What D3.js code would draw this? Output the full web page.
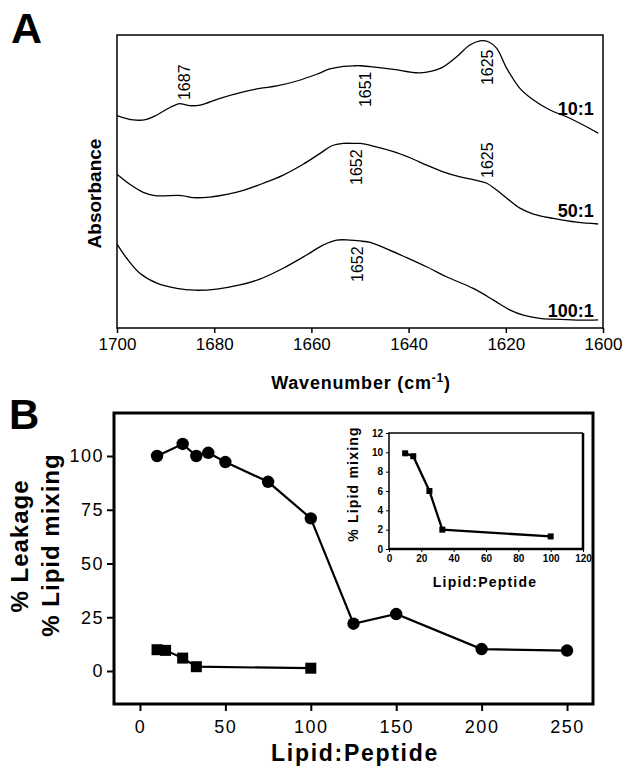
<!DOCTYPE html>
<html>
<head>
<meta charset="utf-8">
<script src="https://cdn.jsdelivr.net/npm/d3@7"></script>
<style>
  body { margin: 0; background: #fff; }
  svg { display: block; font-family: "Liberation Sans", Arial, sans-serif; }
</style>
</head>
<body>
<svg id="chart" width="623" height="768"></svg>
<script>
// ---- panel A: FTIR spectra (wavenumber, absorbance in arbitrary units) ----
const spec10 = [
  [1700, 0.725], [1696.6, 0.710], [1693.9, 0.712], [1691.8, 0.727], [1689.4, 0.750],
  [1687.4, 0.765], [1686.7, 0.765], [1685.0, 0.759], [1682.9, 0.761], [1678.8, 0.784],
  [1674.0, 0.806], [1670.6, 0.818], [1667.1, 0.826], [1663.0, 0.843], [1658.9, 0.866],
  [1656.2, 0.884], [1653.4, 0.893], [1651.0, 0.895], [1650.0, 0.895], [1647.9, 0.892],
  [1643.1, 0.883], [1637.7, 0.871], [1633.5, 0.886], [1630.1, 0.926], [1627.4, 0.966],
  [1625.3, 0.980], [1623.6, 0.977], [1621.9, 0.955], [1619.8, 0.886], [1617.1, 0.818],
  [1614.3, 0.778], [1610.9, 0.744], [1607.5, 0.721], [1603.4, 0.687], [1601.0, 0.665]
];
const spec50 = [
  [1700, 0.525], [1697.3, 0.490], [1694.6, 0.463], [1692.2, 0.452], [1686.7, 0.452],
  [1684.3, 0.445], [1680.9, 0.447], [1677.4, 0.456], [1674.0, 0.470], [1669.9, 0.494],
  [1665.8, 0.522], [1661.7, 0.559], [1658.2, 0.596], [1655.8, 0.622], [1653.4, 0.630],
  [1651.0, 0.630], [1650.0, 0.630], [1647.3, 0.621], [1643.1, 0.602], [1639.7, 0.581],
  [1636.3, 0.556], [1632.9, 0.533], [1629.4, 0.516], [1626.3, 0.505], [1623.9, 0.494],
  [1621.9, 0.471], [1619.8, 0.443], [1617.1, 0.409], [1614.3, 0.389], [1610.2, 0.374],
  [1605.4, 0.361], [1601.0, 0.355]
];
const spec100 = [
  [1700, 0.286], [1698.0, 0.238], [1695.3, 0.187], [1691.8, 0.153], [1687.7, 0.135],
  [1684.0, 0.129], [1679.5, 0.133], [1674.7, 0.147], [1670.6, 0.167], [1665.8, 0.204],
  [1661.0, 0.249], [1657.6, 0.283], [1654.8, 0.300], [1652.1, 0.300], [1650.0, 0.297],
  [1647.9, 0.292], [1644.5, 0.270], [1640.4, 0.240], [1636.3, 0.209], [1632.2, 0.175],
  [1626.7, 0.135], [1622.6, 0.096], [1619.1, 0.061], [1616.4, 0.044], [1613.0, 0.033],
  [1610.2, 0.030], [1605.4, 0.027], [1601.0, 0.028]
];
const spectraNames = ['10:1', '50:1', '100:1'];
const spectraLabelLevel = [0.727, 0.379, 0.0375];
const peakLabels = ['1687', '1651', '1625', '1652', '1625', '1652'];
const peakWn = [1686.2, 1649.0, 1623.9, 1650.7, 1623.9, 1650.6];
const peakLevel = [0.778, 0.754, 0.829, 0.488, 0.512, 0.157];
const wnTicks = [1700, 1680, 1660, 1640, 1620, 1600];

// ---- panel B: leakage and lipid mixing vs lipid:peptide ----
const leakRatio = [10, 25, 33, 40, 50, 75, 100, 125, 150, 200, 250];
const leakPct = [100, 105.6, 100, 101.5, 97.2, 88, 71, 22, 26.5, 10.2, 9.5];
const mixRatio = [10, 15, 25, 33, 100];
const mixPct = [9.9, 9.6, 6, 2, 1.3];
const bXTicks = [0, 50, 100, 150, 200, 250];
const bYTicks = [0, 25, 50, 75, 100];
const insetXTicks = [0, 20, 40, 60, 80, 100, 120];
const insetYTicks = [0, 2, 4, 6, 8, 10, 12];

const svg = d3.select('#chart');

// ================= Panel A =================
const ax = d3.scaleLinear().domain([1700, 1600]).range([117, 603]);
const ay = d3.scaleLinear().domain([0, 1]).range([328, 35]);

svg.append('text').attr('x', 11).attr('y', 43)
  .attr('font-size', 43).attr('font-weight', 'bold').text('A');

svg.append('rect')
  .attr('x', ax(1700)).attr('y', ay(1))
  .attr('width', ax(1600) - ax(1700)).attr('height', ay(0) - ay(1))
  .attr('fill', 'none').attr('stroke', '#000').attr('stroke-width', 1.5);

const aAxis = svg.append('g')
  .attr('transform', `translate(0,${ay(0)})`)
  .call(d3.axisBottom(ax).tickValues(wnTicks).tickSize(5).tickPadding(5).tickFormat(d3.format('d')));
aAxis.select('.domain').remove();
aAxis.selectAll('line').attr('stroke-width', 1.5);
aAxis.selectAll('text').attr('font-size', 17).attr('font-family', null).attr('fill', '#000');

const specLine = d3.line()
  .x(d => ax(d[0])).y(d => ay(d[1]))
  .curve(d3.curveCatmullRom.alpha(0.5));

[spec10, spec50, spec100].forEach((s, i) => {
  svg.append('path').datum(s)
    .attr('d', specLine)
    .attr('fill', 'none').attr('stroke', '#000').attr('stroke-width', 1.3);
  svg.append('text')
    .attr('x', ax(1601.9)).attr('y', ay(spectraLabelLevel[i]))
    .attr('text-anchor', 'end')
    .attr('font-size', 18).attr('font-weight', 'bold')
    .text(spectraNames[i]);
});

peakLabels.forEach((t, i) => {
  const x = ax(peakWn[i]), y = ay(peakLevel[i]);
  svg.append('text')
    .attr('transform', `translate(${x},${y}) rotate(-90)`)
    .attr('dy', '0.36em')
    .attr('font-size', 16)
    .text(t);
});

svg.append('text')
  .attr('transform', `translate(${ax(1700) - 16},${(ay(0) + ay(1)) / 2 + 12}) rotate(-90)`)
  .attr('text-anchor', 'middle')
  .attr('font-size', 19).attr('font-weight', 'bold')
  .text('Absorbance');

const wl = svg.append('text')
  .attr('x', 361).attr('y', 389)
  .attr('text-anchor', 'middle')
  .attr('font-size', 18).attr('font-weight', 'bold').attr('letter-spacing', 0.8);
wl.append('tspan').text('Wavenumber (cm');
wl.append('tspan').attr('font-size', 12).attr('dy', -7).text('-1');
wl.append('tspan').attr('dy', 7).text(')');

// ================= Panel B =================
const bx = d3.scaleLinear().domain([-15.2, 265.2]).range([114, 593]);
const by = d3.scaleLinear().domain([-15.35, 120]).range([704, 413]);

svg.append('text').attr('x', 9).attr('y', 429)
  .attr('font-size', 42).attr('font-weight', 'bold').text('B');

svg.append('rect')
  .attr('x', bx(-15.2)).attr('y', by(120))
  .attr('width', bx(265.2) - bx(-15.2)).attr('height', by(-15.35) - by(120))
  .attr('fill', 'none').attr('stroke', '#000').attr('stroke-width', 3);

const bxAxis = svg.append('g')
  .attr('transform', `translate(0,${by(-15.35) + 1})`)
  .call(d3.axisBottom(bx).tickValues(bXTicks).tickSize(6).tickPadding(9));
bxAxis.select('.domain').remove();
bxAxis.selectAll('line').attr('stroke-width', 2);
bxAxis.selectAll('text').attr('font-size', 18).attr('letter-spacing', 1.5)
  .attr('font-family', null).attr('fill', '#000');

const byAxis = svg.append('g')
  .attr('transform', `translate(${bx(-15.2) - 1},0)`)
  .call(d3.axisLeft(by).tickValues(bYTicks).tickSize(6).tickPadding(3));
byAxis.select('.domain').remove();
byAxis.selectAll('line').attr('stroke-width', 2);
byAxis.selectAll('text').attr('font-size', 18).attr('letter-spacing', 1.5)
  .attr('font-family', null).attr('fill', '#000');

const leak = leakRatio.map((r, i) => [r, leakPct[i]]);
const mix = mixRatio.map((r, i) => [r, mixPct[i]]);

const bLine = d3.line().x(d => bx(d[0])).y(d => by(d[1]));
svg.append('path').datum(leak).attr('d', bLine)
  .attr('fill', 'none').attr('stroke', '#000').attr('stroke-width', 2.2);
svg.append('path').datum(mix).attr('d', bLine)
  .attr('fill', 'none').attr('stroke', '#000').attr('stroke-width', 2.2);

svg.append('g').selectAll('circle').data(leak).enter()
  .append('circle')
  .attr('cx', d => bx(d[0])).attr('cy', d => by(d[1]))
  .attr('r', 6.2).attr('fill', '#000');

svg.append('g').selectAll('rect').data(mix).enter()
  .append('rect')
  .attr('x', d => bx(d[0]) - 5.5).attr('y', d => by(d[1]) - 5.5)
  .attr('width', 11).attr('height', 11).attr('fill', '#000');

svg.append('text')
  .attr('transform', 'translate(28,546) rotate(-90)')
  .attr('text-anchor', 'middle')
  .attr('font-size', 24).attr('font-weight', 'bold').attr('letter-spacing', 1)
  .text('% Leakage');
svg.append('text')
  .attr('transform', 'translate(59,545) rotate(-90)')
  .attr('text-anchor', 'middle')
  .attr('font-size', 24).attr('font-weight', 'bold').attr('letter-spacing', 1)
  .text('% Lipid mixing');

svg.append('text')
  .attr('x', 355).attr('y', 761)
  .attr('text-anchor', 'middle')
  .attr('font-size', 23).attr('font-weight', 'bold').attr('letter-spacing', 1.7)
  .text('Lipid:Peptide');

// ---- inset ----
const ix = d3.scaleLinear().domain([0, 120]).range([389, 583]);
const iy = d3.scaleLinear().domain([0, 12]).range([549, 433]);

svg.append('path')
  .attr('d', `M${ix(0)},${iy(0)}V${iy(12)}H${ix(120)}`)
  .attr('fill', 'none').attr('stroke', '#000').attr('stroke-width', 1.5);
svg.append('path')
  .attr('d', `M${ix(0)},${iy(0)}H${ix(120)}V${iy(12)}`)
  .attr('fill', 'none').attr('stroke', '#000').attr('stroke-width', 2.5);

const ixAxis = svg.append('g')
  .attr('transform', `translate(0,${iy(0)})`)
  .call(d3.axisBottom(ix).tickValues(insetXTicks).tickSize(3).tickPadding(3));
ixAxis.select('.domain').remove();
ixAxis.selectAll('text').attr('font-size', 10).attr('font-weight', 'bold')
  .attr('font-family', null).attr('fill', '#000');

const iyAxis = svg.append('g')
  .attr('transform', `translate(${ix(0)},0)`)
  .call(d3.axisLeft(iy).tickValues(insetYTicks).tickSize(3).tickPadding(3));
iyAxis.select('.domain').remove();
iyAxis.selectAll('text').attr('font-size', 10).attr('font-weight', 'bold')
  .attr('font-family', null).attr('fill', '#000');

const iLine = d3.line().x(d => ix(d[0])).y(d => iy(d[1]));
svg.append('path').datum(mix).attr('d', iLine)
  .attr('fill', 'none').attr('stroke', '#000').attr('stroke-width', 2.3);
svg.append('g').selectAll('rect').data(mix).enter()
  .append('rect')
  .attr('x', d => ix(d[0]) - 3).attr('y', d => iy(d[1]) - 3)
  .attr('width', 6).attr('height', 6).attr('fill', '#000');

svg.append('text')
  .attr('x', 485).attr('y', 587)
  .attr('text-anchor', 'middle')
  .attr('font-size', 14).attr('font-weight', 'bold').attr('letter-spacing', 1.2)
  .text('Lipid:Peptide');
svg.append('text')
  .attr('transform', 'translate(358,484) rotate(-90)')
  .attr('text-anchor', 'middle')
  .attr('font-size', 14).attr('font-weight', 'bold').attr('letter-spacing', 1.2)
  .text('% Lipid mixing');
</script>
</body>
</html>
